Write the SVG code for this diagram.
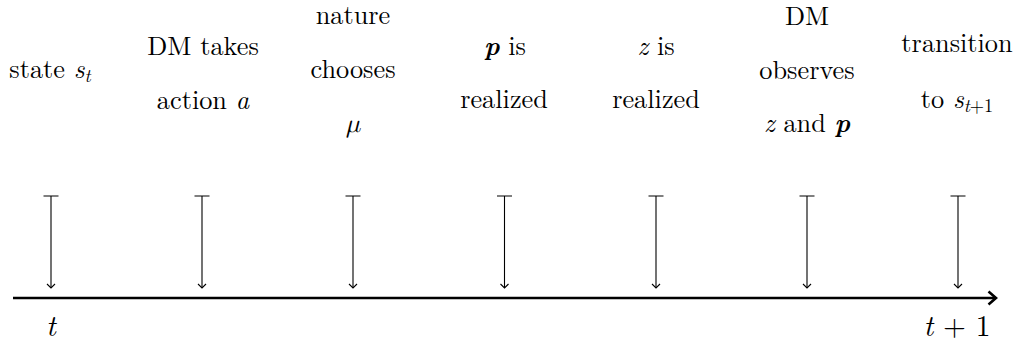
<svg xmlns="http://www.w3.org/2000/svg" width="1022" height="341" viewBox="0 0 1022 341">
<defs>
<style>
text{font-size:26.3px;fill:#000;text-anchor:middle}
.m{font-style:italic}
.b{font-style:italic;font-weight:bold}
.s{font-size:18.4px}
.big{font-size:29.5px}
.tick{stroke:#000;stroke-width:1.1;fill:none}
.axis{stroke:#000;stroke-width:2.6;fill:none}
</style>
<marker id="ah" markerWidth="10" markerHeight="10" refX="5" refY="5" orient="auto" markerUnits="userSpaceOnUse" viewBox="0 0 10 10">
<path d="M1,1 L5,5 L1,9" stroke="#000" stroke-width="1.1" fill="none"/>
</marker>
</defs>
<rect width="1022" height="341" fill="#fff"/>
<g id="connectors">
<g class="tick">
<path d="M43.5,196H58.5M51,196V288" marker-end="url(#ah)"/>
<path d="M194.5,196H209.5M202,196V288" marker-end="url(#ah)"/>
<path d="M345.5,196H360.5M353,196V288" marker-end="url(#ah)"/>
<path d="M497,196H512M504.5,196V288" marker-end="url(#ah)"/>
<path d="M648.5,196H663.5M656,196V288" marker-end="url(#ah)"/>
<path d="M799.5,196H814.5M807,196V288" marker-end="url(#ah)"/>
<path d="M950.5,196H965.5M958,196V288" marker-end="url(#ah)"/>
</g>
<path class="axis" d="M13,298H995"/>
<path class="axis" d="M988.5,291.5L996,298L988.5,304.5"/>
</g>
<g id="node-state"><text font-family="Latin Modern Roman, Liberation Serif, serif" x="50" y="78">state <tspan class="m">s</tspan><tspan class="m s" dy="4">t</tspan></text></g>
<g id="node-action"><text font-family="Latin Modern Roman, Liberation Serif, serif" x="203" y="55">DM takes</text><text font-family="Latin Modern Roman, Liberation Serif, serif" x="203" y="109">action <tspan class="m">a</tspan></text></g>
<g id="node-nature"><text font-family="Latin Modern Roman, Liberation Serif, serif" x="353" y="24">nature</text><text font-family="Latin Modern Roman, Liberation Serif, serif" x="353" y="78">chooses</text><text font-family="Latin Modern Roman, Latin Modern Math, Liberation Serif, serif" x="353" y="132" class="m">μ</text></g>
<g id="node-p"><text font-family="Latin Modern Roman, Liberation Serif, serif" x="505" y="55"><tspan class="b">p</tspan> is</text><text font-family="Latin Modern Roman, Liberation Serif, serif" x="504" y="108">realized</text></g>
<g id="node-z"><text font-family="Latin Modern Roman, Liberation Serif, serif" x="656" y="55"><tspan class="m">z</tspan> is</text><text font-family="Latin Modern Roman, Liberation Serif, serif" x="656" y="108">realized</text></g>
<g id="node-observe"><text font-family="Latin Modern Roman, Liberation Serif, serif" x="807" y="25">DM</text><text font-family="Latin Modern Roman, Liberation Serif, serif" x="807" y="79">observes</text><text font-family="Latin Modern Roman, Liberation Serif, serif" x="807" y="132"><tspan class="m">z</tspan> and <tspan class="b">p</tspan></text></g>
<g id="node-transition"><text font-family="Latin Modern Roman, Liberation Serif, serif" x="957" y="52">transition</text><text font-family="Latin Modern Roman, Liberation Serif, serif" x="957" y="108">to <tspan class="m">s</tspan><tspan class="s" dy="4"><tspan class="m">t</tspan>+1</tspan></text></g>
<g id="axis-labels"><text font-family="Latin Modern Roman, Liberation Serif, serif" x="51" y="336" class="m big">t</text><text font-family="Latin Modern Roman, Liberation Serif, serif" x="957" y="336" class="big"><tspan class="m">t</tspan> + 1</text></g>
</svg>
